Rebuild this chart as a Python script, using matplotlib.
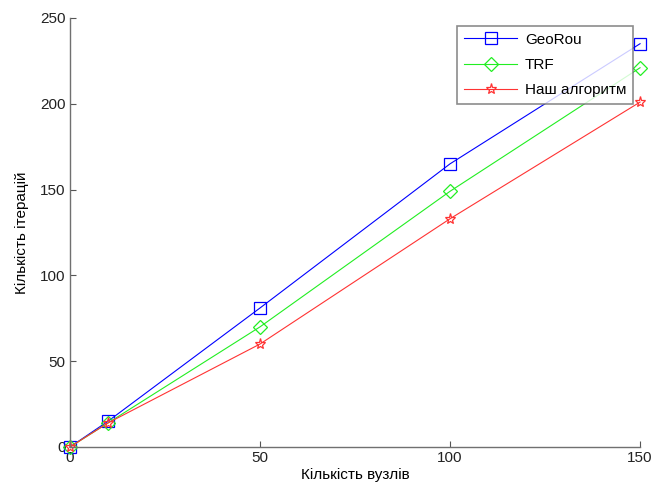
import matplotlib
matplotlib.use("Agg")
import matplotlib.pyplot as plt

plt.rcParams['font.family'] = ['Liberation Sans', 'DejaVu Sans']

x_nodes = [0, 10, 50, 100, 150]
georou = [0, 15, 81, 165, 235]
trf = [0, 14, 70, 149, 221]
ours = [0, 14, 60, 133, 201]
x_ticks = [0, 50, 100, 150]
y_ticks = [0, 50, 100, 150, 200, 250]

fig = plt.figure(figsize=(6.56, 4.9), dpi=100)
ax = fig.add_axes([0.1067, 0.0878, 0.869, 0.8755])

ax.plot(x_nodes, georou, color='#0000ff', lw=0.8, marker='s', ms=8,
        mfc='none', mec='#0000ff', mew=0.9, label='GeoRou', clip_on=False)
ax.plot(x_nodes, trf, color='#22ee22', lw=0.8, marker='D', ms=7,
        mfc='none', mec='#22ee22', mew=0.9, label='TRF', clip_on=False)
ax.plot(x_nodes, ours, color='#ff3333', lw=0.8, marker='*', ms=8,
        mfc='none', mec='#ff3333', mew=0.9, label='Наш алгоритм', clip_on=False)

ax.set_xlim(0, 150)
ax.set_ylim(0, 250)
ax.set_xticks(x_ticks)
ax.set_yticks(y_ticks)
ax.tick_params(direction='in', length=4, color='#555555', labelsize=11,
               labelcolor='#222222', pad=3)
for s in ['top', 'right']:
    ax.spines[s].set_visible(False)
for s in ['left', 'bottom']:
    ax.spines[s].set_color('#707070')
    ax.spines[s].set_linewidth(1.0)

ax.set_xlabel('Кількість вузлів', fontsize=11, labelpad=2)
ax.set_ylabel('Кількість ітерацій', fontsize=11, labelpad=8)

leg = ax.legend(loc='upper right', bbox_to_anchor=(0.988, 0.982), fontsize=11,
                frameon=True, fancybox=False, borderpad=0.45, handlelength=3.5,
                labelspacing=0.75, handletextpad=0.5, borderaxespad=0.0)
leg.get_frame().set_edgecolor('#707070')
leg.get_frame().set_linewidth(1.2)

fig.savefig('out.png', dpi=100)
